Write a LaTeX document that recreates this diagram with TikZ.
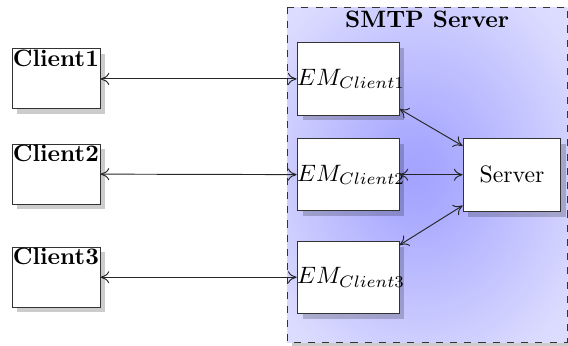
\documentclass[tikz,border=0pt]{standalone}
\usepackage{amsmath,amssymb}
\usetikzlibrary{arrows.meta, positioning, shadows}
\pgfdeclareradialshading{smtpglow}{\pgfpoint{-2bp}{0bp}}{color(0bp)=(blue!36); color(5bp)=(blue!34); color(32bp)=(blue!14); color(50bp)=(blue!12)}
\tikzset{
    clientbox/.style={rectangle, draw=black!80, fill=white, minimum width=1.305cm, minimum height=0.89cm, inner sep=0pt,
        drop shadow={fill=black, opacity=0.2, shadow xshift=0.07cm, shadow yshift=-0.07cm}},
    embox/.style={rectangle, draw=black!80, fill=white, minimum width=1.51cm, minimum height=1.07cm, inner sep=0pt,
        drop shadow={fill=black, opacity=0.2, shadow xshift=0.08cm, shadow yshift=-0.08cm}},
    serverbox/.style={rectangle, draw=black!80, fill=white, minimum width=1.45cm, minimum height=1.08cm, inner sep=0pt,
        drop shadow={fill=black, opacity=0.2, shadow xshift=0.08cm, shadow yshift=-0.08cm}},
    smtpframe/.style={draw=black!80, dashed, shading=smtpglow,
        drop shadow={fill=black, opacity=0.2, shadow xshift=0.07cm, shadow yshift=-0.07cm}},
    linkarrow/.style={{To[length=1.3mm,width=1.8mm]}-{To[length=1.3mm,width=1.8mm]}, draw=black!85}
}

\begin{document}
\begin{tikzpicture}
    \useasboundingbox (0,0) rectangle (8.42,-5.116);

    % SMTP server frame
    \path[smtpframe] (4.256,-0.104) rectangle (8.41,-5.07);
    \node[font=\bfseries, anchor=north, inner sep=1pt] (title) at (6.333,-0.12) {SMTP Server};

    % Clients
    \node[clientbox, label={[anchor=north west, inner sep=0.4pt, font=\bfseries]north west:Client1}] (c1) at (0.83,-1.17) {};
    \node[clientbox, label={[anchor=north west, inner sep=0.4pt, font=\bfseries]north west:Client2}] (c2) at (0.83,-2.58) {};
    \node[clientbox, label={[anchor=north west, inner sep=0.4pt, font=\bfseries]north west:Client3}] (c3) at (0.83,-4.11) {};

    % Client handlers inside the server
    \node[embox, label={[anchor=west, inner sep=0pt]west:$EM_{Client1}$}] (em1) at (5.16,-1.17) {};
    \node[embox, label={[anchor=west, inner sep=0pt]west:$EM_{Client2}$}] (em2) at (5.16,-2.59) {};
    \node[embox, label={[anchor=west, inner sep=0pt]west:$EM_{Client3}$}] (em3) at (5.16,-4.11) {};
    \node[serverbox] (srv) at (7.59,-2.59) {Server};

    % Links
    \draw[linkarrow] (c1) -- (em1);
    \draw[linkarrow] (c2) -- (em2);
    \draw[linkarrow] (c3) -- (em3);
    \draw[linkarrow] (em1) -- (srv);
    \draw[linkarrow] (em2) -- (srv);
    \draw[linkarrow] (em3) -- (srv);
\end{tikzpicture}
\end{document}
